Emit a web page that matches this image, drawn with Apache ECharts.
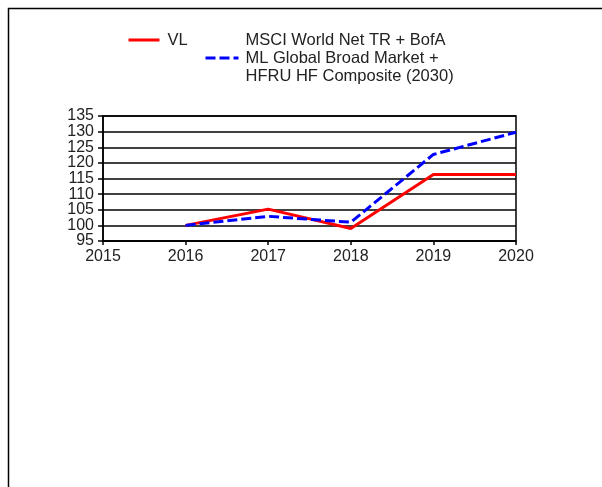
<!DOCTYPE html>
<html>
<head>
<meta charset="utf-8">
<script src="https://cdn.jsdelivr.net/npm/echarts@6/dist/echarts.min.js"></script>
<style>
html,body{margin:0;padding:0;background:#fff;}
#c{width:602px;height:487px;}
</style>
</head>
<body>
<div id="c"></div>
<script>
const years = ['2015','2016','2017','2018','2019','2020'];
const vlName = 'VL';
const benchName = 'MSCI World Net TR + BofA\nML Global Broad Market +\nHFRU HF Composite (2030)';
const vlValues = [null, 100, 105.2, 99.0, 116.3, 116.3];
const benchValues = [null, 100, 102.9, 101.0, 122.7, 129.8];
const yTicks = {min: 95, max: 135, step: 5};

const chart = echarts.init(document.getElementById('c'), null, {renderer: 'canvas'});
const reg = '"Liberation Sans", Arial, sans-serif';
const hiddenSymbol = {color: 'transparent', borderWidth: 0, opacity: 0};
const yLabelStyle = {fontFamily: reg, fontSize: 16, color: '#222', margin: 9};
chart.setOption({
  animation: false,
  backgroundColor: '#fff',
  graphic: [{
    type: 'rect', left: 6, top: 6,
    shape: {width: 700, height: 600},
    style: {fill: 'none', stroke: '#000', lineWidth: 1.5}
  }],
  legend: [{
    data: [vlName], left: 127, top: 31, padding: 0,
    itemWidth: 31, itemHeight: 14, itemStyle: hiddenSymbol, lineStyle: {width: 3},
    textStyle: {fontFamily: reg, fontSize: 16.5, color: '#222', lineHeight: 18, padding: [0,0,0,3]}
  }, {
    data: [benchName], left: 204, top: 31, padding: 0,
    itemWidth: 33, itemHeight: 14, itemStyle: hiddenSymbol, lineStyle: {width: 3},
    textStyle: {fontFamily: reg, fontSize: 16.5, color: '#222', lineHeight: 18, padding: [0,0,0,2]}
  }],
  grid: {left: 103, right: 86, top: 116, bottom: 246, show: true, borderColor: '#000', borderWidth: 1.5},
  xAxis: {
    type: 'category', data: years, boundaryGap: false,
    axisLine: {lineStyle: {color: '#000', width: 1.5}},
    axisTick: {show: true, length: 4, lineStyle: {color: '#000', width: 1.5}},
    axisLabel: {fontFamily: reg, fontSize: 16, color: '#222', margin: 8}
  },
  yAxis: [{
    type: 'value', min: yTicks.min, max: yTicks.max, interval: yTicks.step, position: 'left',
    axisLine: {show: true, lineStyle: {color: '#000', width: 1.5}},
    axisTick: {show: true, length: 5, lineStyle: {color: '#000', width: 1.5}},
    axisLabel: Object.assign({
      formatter: v => ((v - yTicks.min) % (2 * yTicks.step) === 0 ? String(v) : ''),
      showMinLabel: true, showMaxLabel: true
    }, yLabelStyle),
    splitLine: {show: true, lineStyle: {color: '#000', width: 1.5}}
  }, {
    type: 'value', min: yTicks.min, max: yTicks.max, interval: yTicks.step, position: 'left', offset: 0,
    axisLine: {show: false}, axisTick: {show: false}, splitLine: {show: false},
    axisLabel: Object.assign({
      formatter: v => ((v - yTicks.min) % (2 * yTicks.step) !== 0 ? String(v) : ''),
      showMinLabel: false, showMaxLabel: false
    }, yLabelStyle)
  }],
  series: [{
    name: vlName, type: 'line', data: vlValues, symbol: 'none', yAxisIndex: 0,
    lineStyle: {color: '#ff0000', width: 3}, itemStyle: {color: '#ff0000'}, z: 3
  }, {
    name: benchName, type: 'line', data: benchValues, symbol: 'none', yAxisIndex: 0,
    lineStyle: {color: '#0000ff', width: 3, type: [10, 4]}, itemStyle: {color: '#0000ff'}, z: 4
  }]
});
</script>
</body>
</html>
